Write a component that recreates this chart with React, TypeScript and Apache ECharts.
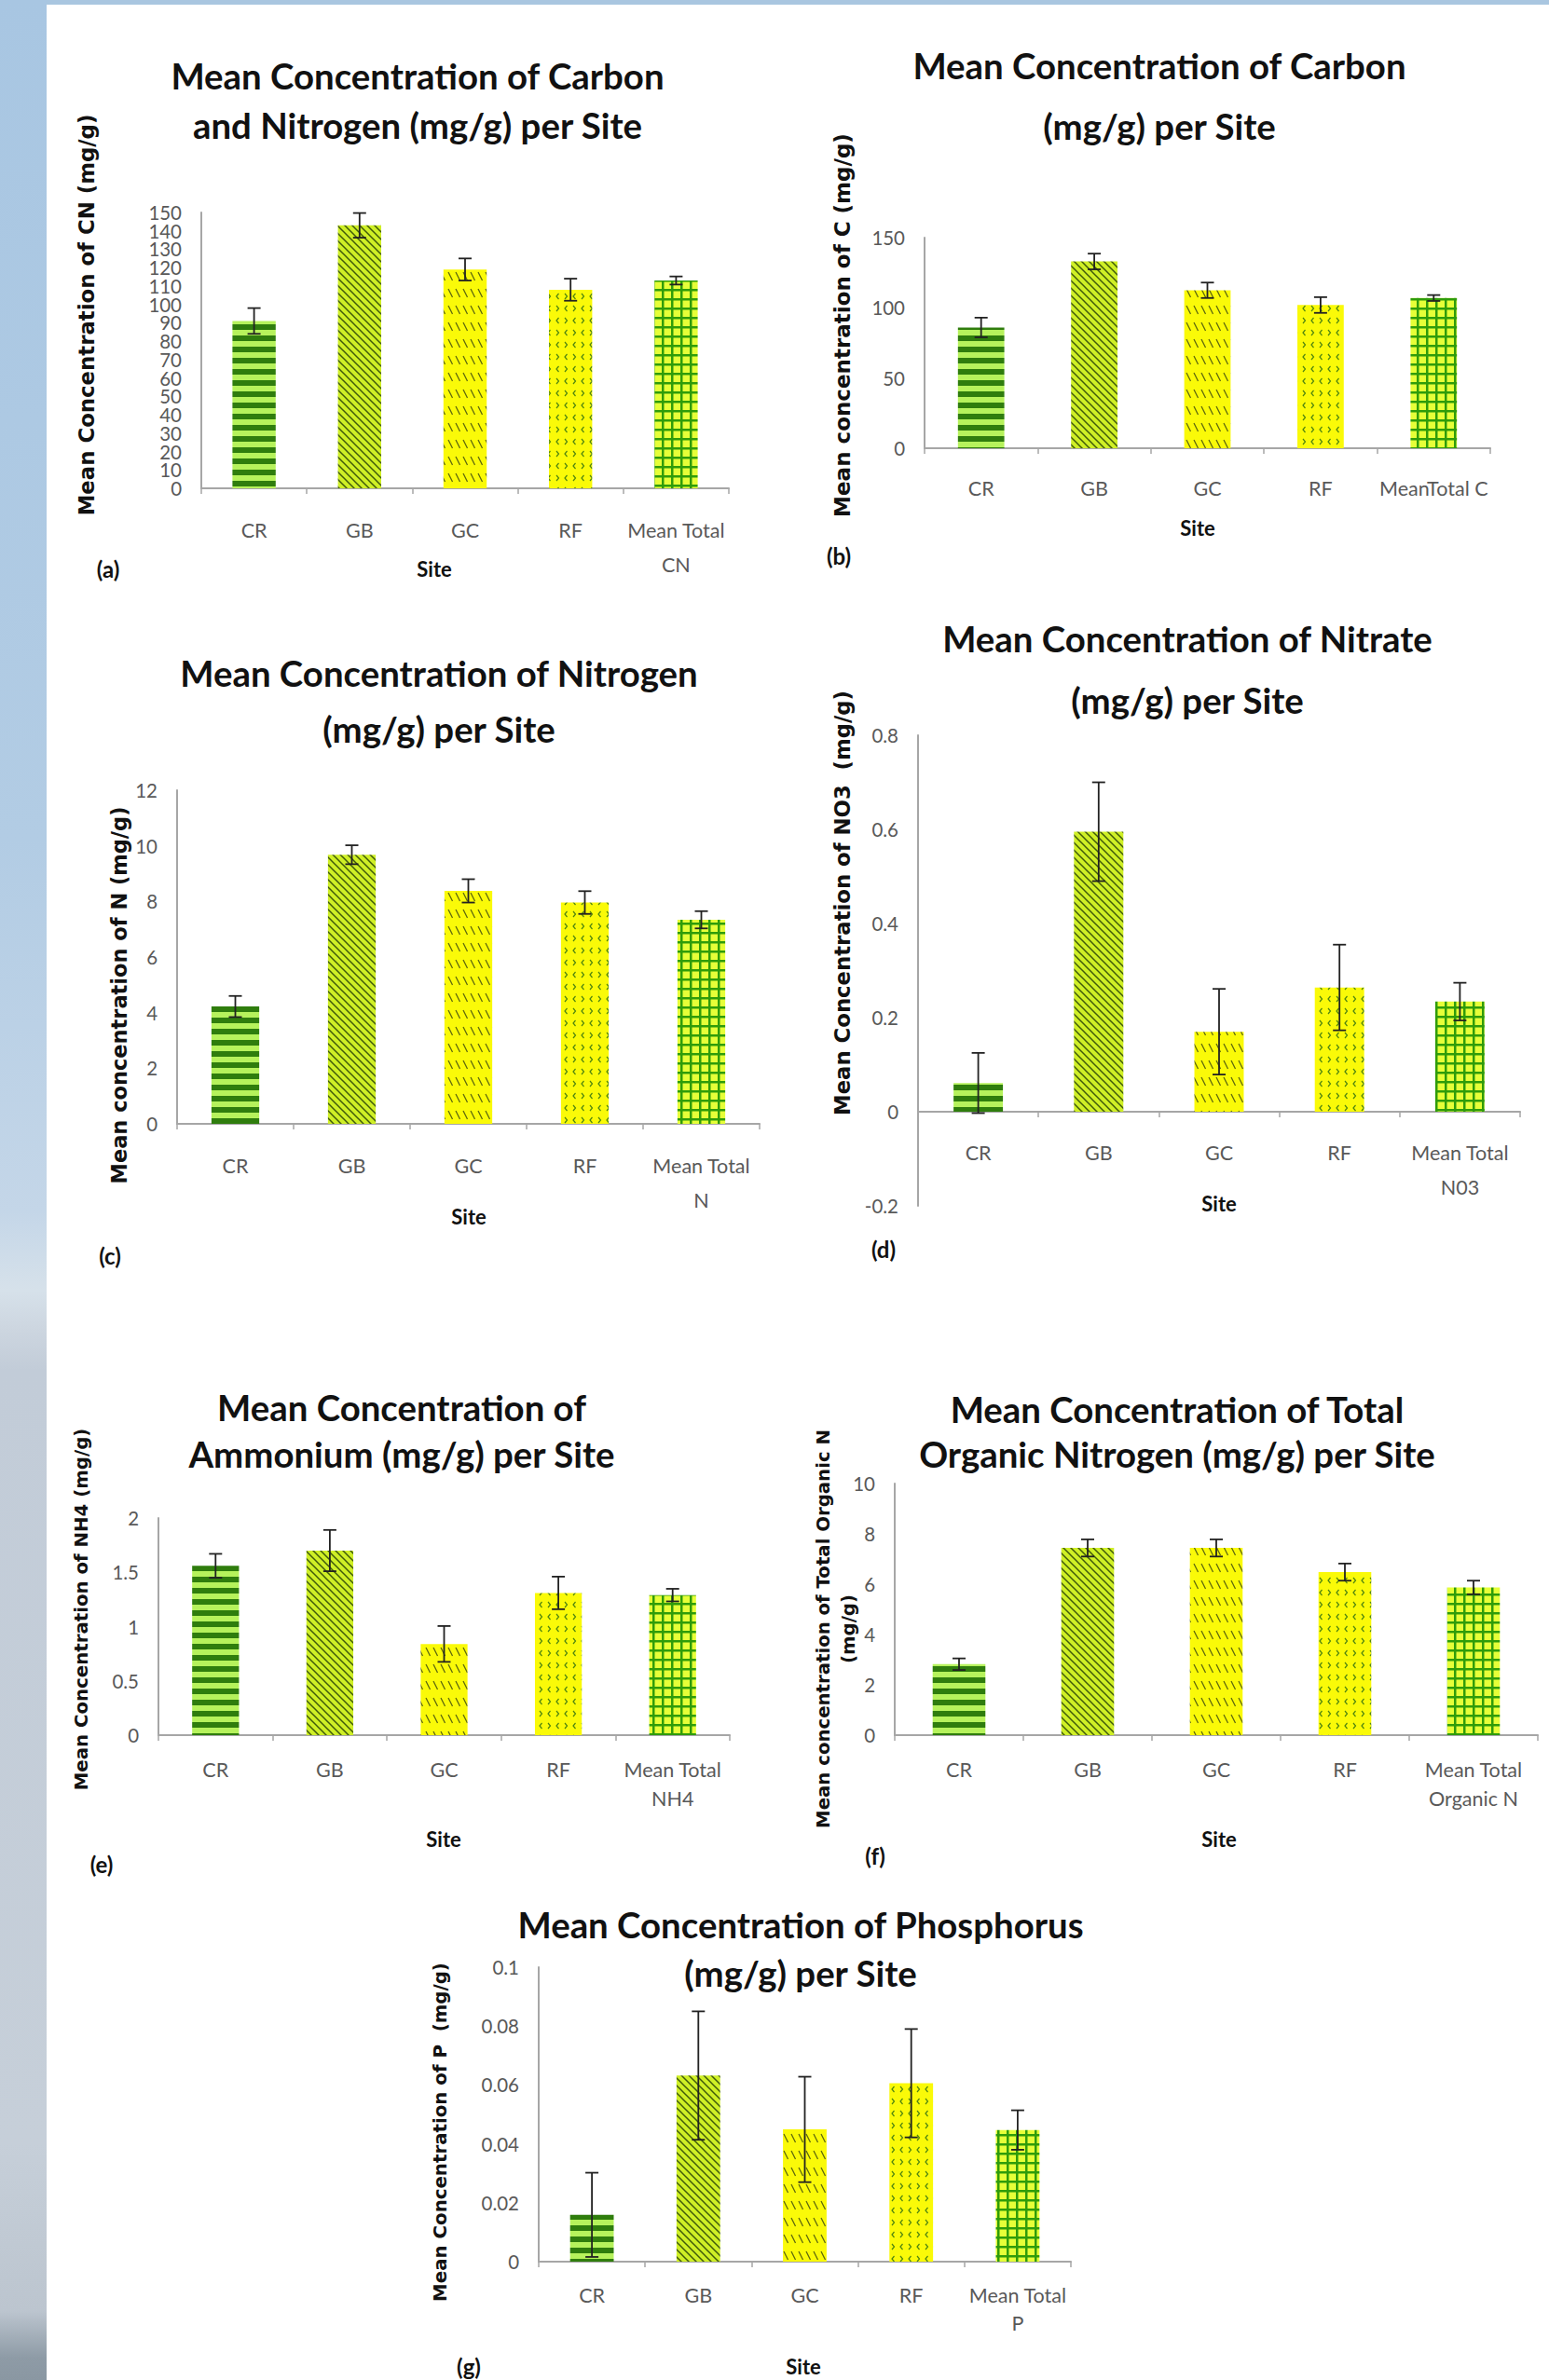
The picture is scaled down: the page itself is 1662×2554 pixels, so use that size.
import React, { useEffect, useRef } from "react";
import * as echarts from "echarts";

// ---------------- data ----------------
const SITES = ["CR", "GB", "GC", "RF"];
const TOTAL_LABELS = [
  "Mean Total\nCN",
  "MeanTotal C",
  "Mean Total\nN",
  "Mean Total\nN03",
  "Mean Total\nNH4",
  "Mean Total\nOrganic N",
  "Mean Total\nP",
];

const CN_MEANS = [91, 143, 119, 108, 113];
const CN_ERRS = [7, 6.7, 6, 6, 2.2];
const C_MEANS = [86, 133, 112.5, 102, 107];
const C_ERRS = [7, 5.6, 5.5, 5.6, 2.1];
const N_MEANS = [4.22, 9.68, 8.38, 7.96, 7.34];
const N_ERRS = [0.38, 0.34, 0.42, 0.41, 0.31];
const NO3_MEANS = [0.061, 0.595, 0.17, 0.264, 0.234];
const NO3_ERRS = [0.064, 0.105, 0.091, 0.091, 0.04];
const NH4_MEANS = [1.56, 1.7, 0.84, 1.31, 1.29];
const NH4_ERRS = [0.11, 0.19, 0.165, 0.15, 0.058];
const TON_MEANS = [2.82, 7.44, 7.44, 6.48, 5.87];
const TON_ERRS = [0.23, 0.34, 0.34, 0.34, 0.27];
const P_MEANS = [0.0159, 0.0632, 0.0449, 0.0606, 0.0447];
const P_ERRS = [0.0143, 0.0218, 0.0179, 0.0184, 0.0067];

const ALL_MEANS = [CN_MEANS, C_MEANS, N_MEANS, NO3_MEANS, NH4_MEANS, TON_MEANS, P_MEANS];
const ALL_ERRS = [CN_ERRS, C_ERRS, N_ERRS, NO3_ERRS, NH4_ERRS, TON_ERRS, P_ERRS];

const Y_MIN = [0, 0, 0, -0.2, 0, 0, 0];
const Y_MAX = [150, 150, 12, 0.8, 2, 10, 0.1];
const Y_STEP = [10, 50, 2, 0.2, 0.5, 2, 0.02];

const TITLES = [
  ["Mean Concentration of Carbon", "and Nitrogen (mg/g) per Site"],
  ["Mean Concentration of Carbon", "(mg/g) per Site"],
  ["Mean Concentration of Nitrogen", "(mg/g) per Site"],
  ["Mean Concentration of Nitrate", "(mg/g) per Site"],
  ["Mean Concentration of", "Ammonium (mg/g) per Site"],
  ["Mean Concentration of Total", "Organic Nitrogen (mg/g) per Site"],
  ["Mean Concentration of Phosphorus", "(mg/g) per Site"],
];
const Y_NAMES = [
  ["Mean Concentration of CN (mg/g)"],
  ["Mean concentration of C (mg/g)"],
  ["Mean concentration of N (mg/g)"],
  ["Mean Concentration of NO3  (mg/g)"],
  ["Mean Concentration of NH4 (mg/g)"],
  ["Mean concentration of Total Organic N", "(mg/g)"],
  ["Mean Concentration of P  (mg/g)"],
];
const X_NAME = "Site";
const TAGS = ["(a)", "(b)", "(c)", "(d)", "(e)", "(f)", "(g)"];

// ---------------- layout (pixels) ----------------
// xoff: distance the category axis is lifted from the grid bottom (panel d sits on the zero line)
const LAYOUT = [
  { grid: [216, 228, 566, 296], tx: 448, ty: [81, 134], nx: [93], ny: 338, nlen: 431, site: [466, 610], tag: [116, 610], lm: 26, lh: 37, xoff: 0 },
  { grid: [992, 255, 607, 226], tx: 1244, ty: [70, 135], nx: [904], ny: 349, nlen: 412, site: [1285, 566], tag: [900, 596], lm: 24, lh: 37, xoff: 0 },
  { grid: [190, 848, 625, 358], tx: 471, ty: [722, 782], nx: [128], ny: 1068, nlen: 405, site: [503, 1305], tag: [118, 1347], lm: 26, lh: 37, xoff: 0 },
  { grid: [985, 789, 646, 505], tx: 1274, ty: [685, 751], nx: [904], ny: 969, nlen: 456, site: [1308, 1291], tag: [948, 1340], lm: 25, lh: 37, xoff: 101 },
  { grid: [170, 1629, 613, 233], tx: 431, ty: [1510, 1560], nx: [87], ny: 1727, nlen: 389, site: [476, 1973], tag: [109, 2000], lm: 21, lh: 31, xoff: 0 },
  { grid: [960, 1592, 690, 270], tx: 1263, ty: [1512, 1560], nx: [883, 910], ny: 1748, nlen: 428, site: [1308, 1973], tag: [939, 1991], lm: 21, lh: 31, xoff: 0 },
  { grid: [578, 2111, 571, 316], tx: 859, ty: [2065, 2117], nx: [472], ny: 2288, nlen: 364, site: [862, 2539], tag: [503, 2539], lm: 21, lh: 30, xoff: 0 },
];

// ---------------- helpers ----------------
function measure(text: string, font: string) {
  const c = document.createElement("canvas").getContext("2d")!;
  c.font = font;
  return c.measureText(text).width || 1;
}
function fitSize(text: string, family: string, weight: string, target: number) {
  return (100 * target) / measure(text, `${weight} 100px ${family}`);
}

function tile(w: number, h: number, draw: (ctx: CanvasRenderingContext2D) => void) {
  const c = document.createElement("canvas");
  c.width = w;
  c.height = h;
  const ctx = c.getContext("2d")!;
  draw(ctx);
  return { image: c.toDataURL(), repeat: "repeat", imageWidth: w, imageHeight: h };
}

function makePatterns() {
  const stripes = tile(8, 12, (ctx) => {
    ctx.fillStyle = "#b6f25c";
    ctx.fillRect(0, 0, 8, 12);
    ctx.fillStyle = "#2f7d0d";
    ctx.fillRect(0, 0, 8, 6);
  });
  const diag = tile(8, 8, (ctx) => {
    ctx.fillStyle = "#cfef26";
    ctx.fillRect(0, 0, 8, 8);
    ctx.strokeStyle = "#3f5a0a";
    ctx.lineWidth = 1.5;
    for (const k of [-8, 0, 8]) {
      ctx.beginPath();
      ctx.moveTo(k - 1, -1);
      ctx.lineTo(k + 9, 9);
      ctx.stroke();
    }
  });
  const dashDiag = tile(8, 18, (ctx) => {
    ctx.fillStyle = "#fafa08";
    ctx.fillRect(0, 0, 8, 18);
    ctx.strokeStyle = "#5a650f";
    ctx.lineWidth = 1.2;
    for (const k of [-8, 0, 8]) {
      ctx.beginPath();
      ctx.moveTo(k + 1, 4);
      ctx.lineTo(k + 5.5, 13);
      ctx.stroke();
    }
  });
  const zigzag = tile(18, 26, (ctx) => {
    ctx.fillStyle = "#fafa08";
    ctx.fillRect(0, 0, 18, 26);
    ctx.strokeStyle = "#4f8510";
    ctx.lineWidth = 1.2;
    const chev = (x: number, y: number, left: boolean) => {
      ctx.beginPath();
      if (left) {
        ctx.moveTo(x + 2.5, y - 3);
        ctx.lineTo(x, y);
        ctx.lineTo(x + 2.5, y + 3);
      } else {
        ctx.moveTo(x, y - 3);
        ctx.lineTo(x + 2.5, y);
        ctx.lineTo(x, y + 3);
      }
      ctx.stroke();
    };
    chev(3, 6, true);
    chev(12, 6, false);
    chev(3, 19, false);
    chev(12, 19, true);
  });
  const grid = tile(10, 10, (ctx) => {
    ctx.fillStyle = "#e6ff38";
    ctx.fillRect(0, 0, 10, 10);
    ctx.fillStyle = "#2f9c0a";
    ctx.fillRect(0, 0, 10, 2.5);
    ctx.fillRect(0, 0, 2.5, 10);
  });
  return [stripes, diag, dashDiag, zigzag, grid];
}

function buildOption() {
  const patterns = makePatterns();
  const titleFs = fitSize("Mean Concentration of Carbon", "Lato", "bold", 530);
  const catFs = fitSize("Mean Total", "Lato", "normal", 105);
  const tickFs = catFs * 0.95;

  const grids: any[] = [];
  const xAxes: any[] = [];
  const yAxes: any[] = [];
  const series: any[] = [];
  const graphics: any[] = [];

  const tickLabel = (showEnds: boolean) => ({
    margin: 21,
    fontSize: tickFs,
    color: "#595959",
    fontFamily: "Lato",
    showMinLabel: showEnds,
    showMaxLabel: showEnds,
    hideOverlap: false,
  });

  const txt = (x: number, y: number, text: string, fs: number, family: string, weight: string, rot = 0) => ({
    type: "text",
    x,
    y,
    rotation: rot,
    silent: true,
    style: {
      text,
      fontSize: fs,
      fontFamily: family,
      fontWeight: weight,
      fill: "#111111",
      align: "center",
      verticalAlign: "middle",
    },
  });

  LAYOUT.forEach((L, i) => {
    const [left, top, width, height] = L.grid;
    grids.push({ left, top, width, height, containLabel: false, outerBoundsMode: "none" });
    xAxes.push({
      type: "category",
      gridIndex: i,
      position: "bottom",
      offset: -L.xoff,
      data: [...SITES, TOTAL_LABELS[i]],
      axisLine: { show: true, onZero: false, lineStyle: { color: "#a6a6a6", width: 2 } },
      axisTick: { show: true, length: 6, alignWithLabel: false, lineStyle: { color: "#a6a6a6", width: 1.5 } },
      axisLabel: {
        interval: 0,
        margin: L.lm,
        lineHeight: L.lh,
        fontSize: catFs,
        color: "#595959",
        fontFamily: "Lato",
      },
      splitLine: { show: false },
    });
    // panel (a) has crowded ticks: its end labels (0 and 150) come from a second, overlaid axis
    const crowded = i === 0;
    yAxes.push({
      type: "value",
      gridIndex: i,
      position: "left",
      min: Y_MIN[i],
      max: Y_MAX[i],
      interval: Y_STEP[i],
      axisLine: { show: true, onZero: false, lineStyle: { color: "#a6a6a6", width: 2 } },
      axisTick: { show: false },
      splitLine: { show: false },
      axisLabel: tickLabel(!crowded),
    });
    const means = ALL_MEANS[i];
    const errs = ALL_ERRS[i];
    series.push({
      type: "bar",
      xAxisIndex: i,
      yAxisIndex: i,
      barWidth: "41%",
      z: 2,
      data: means.map((v, k) => ({ value: v, itemStyle: { color: patterns[k] } })),
    });
    series.push({
      type: "custom",
      xAxisIndex: i,
      yAxisIndex: i,
      z: 3,
      data: means.map((v, k) => [k, v, errs[k]]),
      renderItem: (params: any, api: any) => {
        const x = api.value(0);
        const m = api.value(1);
        const e = api.value(2);
        const t = api.coord([x, m + e]);
        const b = api.coord([x, m - e]);
        const hw = 7;
        const st = { stroke: "#222222", lineWidth: 1.8 };
        return {
          type: "group",
          children: [
            { type: "line", shape: { x1: t[0], y1: t[1], x2: b[0], y2: b[1] }, style: st },
            { type: "line", shape: { x1: t[0] - hw, y1: t[1], x2: t[0] + hw, y2: t[1] }, style: st },
            { type: "line", shape: { x1: b[0] - hw, y1: b[1], x2: b[0] + hw, y2: b[1] }, style: st },
          ],
        };
      },
    });

    // titles
    TITLES[i].forEach((line, j) => {
      graphics.push(txt(L.tx, L.ty[j], line, titleFs, "Lato", "bold"));
    });
    // y names
    const nameFs = fitSize(Y_NAMES[i][0], "'DejaVu Sans'", "bold", L.nlen);
    Y_NAMES[i].forEach((line, j) => {
      graphics.push(txt(L.nx[j], L.ny, line, nameFs, "DejaVu Sans", "bold", Math.PI / 2));
    });
    graphics.push(txt(L.site[0], L.site[1], X_NAME, 22, "Lato", "bold"));
    graphics.push(txt(L.tag[0], L.tag[1], TAGS[i], 24, "Lato", "bold"));
  });

  // overlay axis for panel (a): labels only at 0 and 150
  yAxes.push({
    type: "value",
    gridIndex: 0,
    position: "left",
    min: Y_MIN[0],
    max: Y_MAX[0],
    interval: Y_MAX[0] - Y_MIN[0],
    axisLine: { show: false },
    axisTick: { show: false },
    splitLine: { show: false },
    axisLabel: tickLabel(true),
  });

  return {
    animation: false,
    backgroundColor: "transparent",
    grid: grids,
    xAxis: xAxes,
    yAxis: yAxes,
    series,
    graphic: { elements: graphics },
  };
}

export default function App() {
  const ref = useRef<HTMLDivElement>(null);
  useEffect(() => {
    if (!ref.current) return;
    const chart = echarts.init(ref.current, null, { renderer: "svg" });
    chart.setOption(buildOption() as any);
    return () => chart.dispose();
  }, []);
  return (
    <div
      style={{
        position: "absolute",
        left: 0,
        top: 0,
        width: 1662,
        height: 2554,
        background: "#ffffff",
        overflow: "hidden",
      }}
    >
      <div
        style={{
          position: "absolute",
          left: 0,
          top: 0,
          width: 50,
          height: 2554,
          background:
            "linear-gradient(to bottom, #a8c6e2 0px, #b2cce4 900px, #c4d6e8 1300px, #d6e1ea 1385px, #cdd6e0 1425px, #c2ccd8 1470px, #c6cfd9 2300px, #bcc5cf 2480px, #8e9ba6 2530px, #8a97a2 2554px)",
        }}
      />
      <div
        style={{ position: "absolute", left: 50, top: 0, width: 1612, height: 5, background: "#a9c6e0" }}
      />
      <div ref={ref} style={{ position: "absolute", left: 0, top: 0, width: 1662, height: 2554 }} />
    </div>
  );
}
